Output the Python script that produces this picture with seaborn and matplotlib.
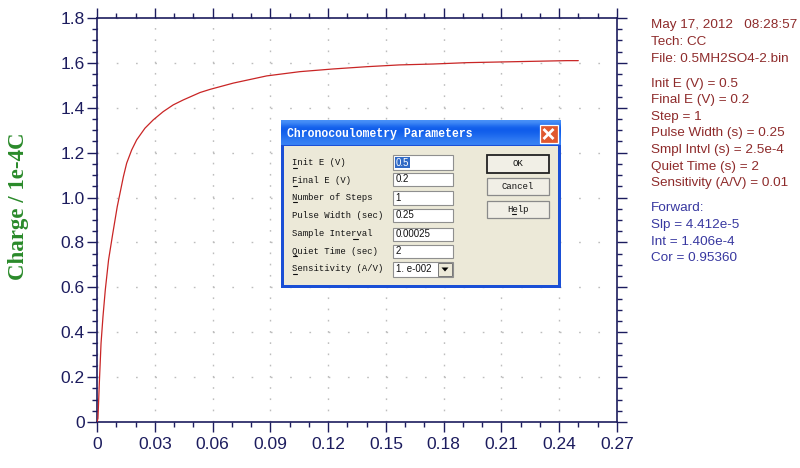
import numpy as np
import pandas as pd
import matplotlib
matplotlib.use("Agg")
import matplotlib.pyplot as plt
import seaborn as sns
from matplotlib.patches import Rectangle, Polygon
from matplotlib.ticker import MultipleLocator, FuncFormatter

# Chronocoulometry trace: charge (1e-4 C) versus time (s)
time_s = [0.0, 0.0005, 0.0012, 0.0021, 0.0031, 0.0043, 0.0060, 0.0081, 0.0105,
          0.0137, 0.0154, 0.0180, 0.0206, 0.0249, 0.0292, 0.0344, 0.0396,
          0.0448, 0.0535, 0.0587, 0.0708, 0.0881, 0.1054, 0.1227, 0.1400,
          0.1570, 0.1746, 0.1920, 0.2090, 0.2265, 0.2439, 0.2499]
charge = [0.0, 0.016, 0.172, 0.351, 0.469, 0.588, 0.722, 0.835, 0.959,
          1.093, 1.153, 1.212, 1.257, 1.309, 1.346, 1.383, 1.413,
          1.435, 1.468, 1.482, 1.510, 1.542, 1.561, 1.573, 1.583,
          1.591, 1.595, 1.601, 1.604, 1.607, 1.610, 1.610]

y_label = "Charge / 1e-4C"

header_lines = ["May 17, 2012   08:28:57", "Tech: CC", "File: 0.5MH2SO4-2.bin"]
param_lines = ["Init E (V) = 0.5", "Final E (V) = 0.2", "Step = 1",
               "Pulse Width (s) = 0.25", "Smpl Intvl (s) = 2.5e-4",
               "Quiet Time (s) = 2", "Sensitivity (A/V) = 0.01"]
fit_lines = ["Forward:", "Slp = 4.412e-5", "Int = 1.406e-4", "Cor = 0.95360"]

dialog_title = "Chronocoulometry Parameters"
field_labels = ["Init E (V)", "Final E (V)", "Number of Steps", "Pulse Width (sec)",
                "Sample Interval", "Quiet Time (sec)", "Sensitivity (A/V)"]
field_values = ["0.5", "0.2", "1", "0.25", "0.00025", "2", "1. e-002"]
button_labels = ["OK", "Cancel", "Help"]

sns.set_theme(style="white")
plt.rcParams["font.family"] = ["Liberation Sans", "DejaVu Sans"]
plt.rcParams["lines.scale_dashes"] = False

NAVY = "#1c1c5e"
W, H = 800, 468
fig = plt.figure(figsize=(8, 4.68), dpi=100)
fig.patch.set_facecolor("white")
ax = fig.add_axes([97 / W, 46 / H, 520 / W, 404 / H])
ax.set_facecolor("white")

df = pd.DataFrame({"t": time_s, "q": charge})
sns.lineplot(data=df, x="t", y="q", ax=ax, color="#c92525", linewidth=0.9,
             estimator=None, zorder=3)

ax.set_xlim(0, 0.27)
ax.set_ylim(0, 1.8)
ax.xaxis.set_major_locator(MultipleLocator(0.03))
ax.xaxis.set_minor_locator(MultipleLocator(0.01))
ax.yaxis.set_major_locator(MultipleLocator(0.2))
ax.yaxis.set_minor_locator(MultipleLocator(0.05))
ax.xaxis.set_major_formatter(FuncFormatter(lambda v, p: "0" if abs(v) < 1e-9 else f"{v:.2f}"))
ax.yaxis.set_major_formatter(FuncFormatter(lambda v, p: "0" if abs(v) < 1e-9 else f"{v:.1f}"))

ax.tick_params(which="both", direction="out", top=True, right=True,
               bottom=True, left=True, labeltop=False, labelright=False,
               color=NAVY, width=1.0)
ax.tick_params(which="major", length=7, labelsize=12.5, labelcolor=NAVY, pad=2)
ax.tick_params(which="minor", length=3.5)
ax.tick_params(axis="x", which="major", pad=4)
for sp in ax.spines.values():
    sp.set_color(NAVY)
    sp.set_linewidth(1.2)

# dotted grid: dots fall on the minor tick spacing of the other axis
ax.xaxis.grid(True, which="major", color="#bdbdbd", linewidth=1.0,
              linestyle=(0, (1.2, 8.08 - 1.2)))
ax.yaxis.grid(True, which="major", color="#bdbdbd", linewidth=1.0,
              linestyle=(0, (1.2, 13.87 - 1.2)))
ax.set_axisbelow(True)

ax.set_xlabel("")
ax.set_ylabel(y_label, fontsize=16.5, fontweight="bold", color="#2a8a2a",
              family=["Liberation Serif", "DejaVu Serif"])
ax.yaxis.set_label_coords(-0.13, 0.535)

# info panel on the right
def fy(y):
    return 1 - y / H

TXT_RED = "#8e2b2b"
TXT_BLUE = "#3838a0"
ys_header = [25, 42, 59]
ys_params = [84, 100, 117, 133, 150, 167, 183]
ys_fit = [208, 225, 242, 258]
PANEL_FS = 9.7
for s, y in zip(header_lines, ys_header):
    fig.text(651 / W, fy(y), s, fontsize=PANEL_FS, color=TXT_RED, va="center", ha="left")
for s, y in zip(param_lines, ys_params):
    fig.text(651 / W, fy(y), s, fontsize=PANEL_FS, color=TXT_RED, va="center", ha="left")
for s, y in zip(fit_lines, ys_fit):
    fig.text(651 / W, fy(y), s, fontsize=PANEL_FS, color=TXT_BLUE, va="center", ha="left")

# parameter dialog window drawn in pixel coordinates
ov = fig.add_axes([0, 0, 1, 1], zorder=10)
ov.set_xlim(0, W)
ov.set_ylim(H, 0)
ov.axis("off")
ov.patch.set_alpha(0)

ov.add_patch(Rectangle((281, 121), 279.5, 166.5, facecolor="#1a4fd6", edgecolor="none"))
grad = np.array([[0.35], [0.0], [0.05], [0.15], [0.25]])
title_cmap = matplotlib.colors.LinearSegmentedColormap.from_list(
    "xp", ["#0a58ea", "#4a92f8"])
ov.imshow(grad, extent=[281, 560.5, 145.5, 121], aspect="auto", cmap=title_cmap,
          interpolation="bicubic", zorder=1)
ov.set_xlim(0, W)
ov.set_ylim(H, 0)
ov.text(287, 133.5, dialog_title, fontsize=8.3, fontweight="bold", color="white",
        family=["Liberation Mono", "DejaVu Sans Mono"], va="center", ha="left", zorder=3)
ov.add_patch(Rectangle((539.5, 125), 18, 18, facecolor="#e0582f", edgecolor="white",
                       linewidth=0.9, zorder=3))
ov.plot([543.5, 553.5], [129, 139], color="white", lw=2, zorder=4, solid_capstyle="butt")
ov.plot([543.5, 553.5], [139, 129], color="white", lw=2, zorder=4, solid_capstyle="butt")

ov.add_patch(Rectangle((284, 145.5), 273.5, 139, facecolor="#ece9d8", edgecolor="none", zorder=2))

MONO = ["Liberation Mono", "DejaVu Sans Mono"]
label_y = [162.5, 180.5, 197, 215, 233.5, 251, 268.5]
field_y = [(155, 170), (172.5, 185.5), (191, 204.5), (209, 222), (227.5, 241),
           (244.5, 257.5), (261.5, 276.5)]
char_w = 5.07
underline_idx = [0, 0, 0, None, 12, 0, 0]
for i, (lab, ly) in enumerate(zip(field_labels, label_y)):
    ov.text(292.5, ly, lab, fontsize=6.4, family=MONO, color="#111111",
            va="center", ha="left", zorder=3)
    k = underline_idx[i]
    if k is not None:
        ov.plot([292.5 + k * char_w, 292.5 + (k + 1) * char_w - 0.8], [ly + 5, ly + 5],
                color="#111111", lw=0.8, zorder=3)

for i, (val, (y0, y1)) in enumerate(zip(field_values, field_y)):
    ov.add_patch(Rectangle((392.5, y0), 60, y1 - y0, facecolor="white",
                           edgecolor="#8f8f8f", linewidth=0.8, zorder=3))
    ym = (y0 + y1) / 2
    if i == 0:
        ov.add_patch(Rectangle((395, y0 + 2), 15, y1 - y0 - 4, facecolor="#316ac5",
                               edgecolor="none", zorder=4))
        ov.text(395.5, ym, val, fontsize=7, color="white", va="center", ha="left", zorder=5)
    else:
        ov.text(395.5, ym, val, fontsize=7, color="#111111", va="center", ha="left", zorder=5)

# combo box drop-down arrow
ov.add_patch(Rectangle((438, 263), 14, 12.5, facecolor="#ece9d8", edgecolor="#777777",
                       linewidth=0.7, zorder=4))
ov.add_patch(Polygon([[441.5, 267.5], [448.5, 267.5], [445, 271.5]], closed=True,
                     facecolor="black", edgecolor="none", zorder=5))

button_y = [(155, 172.5), (177.5, 195), (200.5, 218)]
for j, (lab, (y0, y1)) in enumerate(zip(button_labels, button_y)):
    ov.add_patch(Rectangle((487, y0), 62, y1 - y0, facecolor="#f1efe6",
                           edgecolor="#222222" if j == 0 else "#8a8a8a",
                           linewidth=1.3 if j == 0 else 0.9, zorder=3))
    ov.text(518, (y0 + y1) / 2, lab, fontsize=6.5, family=MONO, color="#111111",
            va="center", ha="center", zorder=4)
ov.plot([511.5, 516], [213.5, 213.5], color="#111111", lw=0.8, zorder=4)

fig.savefig("out.png", dpi=100)
